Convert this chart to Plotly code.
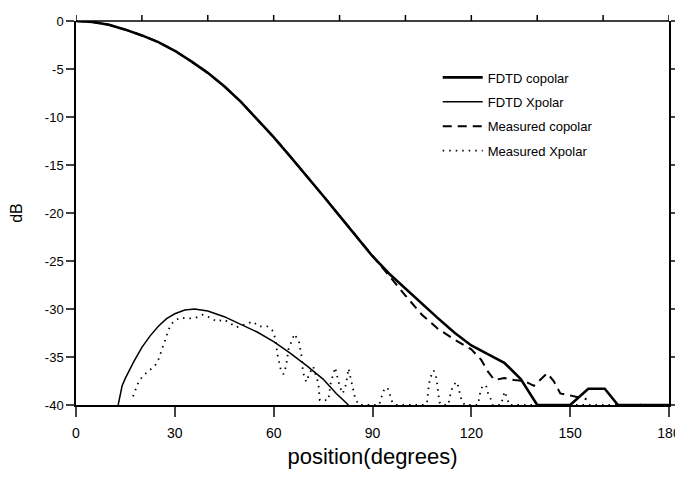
"""Co/cross-polar radiation pattern: FDTD vs measured"""

import plotly.graph_objects as go

# FDTD copolar (degrees, dB)
fdtd_co_x = [0, 5, 10, 15, 20, 25, 30, 35, 40, 45, 50, 55, 60, 65, 70, 75, 80, 85,
             90, 95, 100, 105, 110, 115, 120, 125, 130, 135, 140, 150, 155.5, 160.5,
             164.5, 180]
fdtd_co_y = [0, -0.1, -0.4, -0.9, -1.5, -2.2, -3.1, -4.2, -5.4, -6.8, -8.4, -10.2,
             -12.1, -14.1, -16.1, -18.2, -20.3, -22.4, -24.5, -26.3, -27.9, -29.5,
             -31.0, -32.5, -33.8, -34.7, -35.6, -37.3, -40, -40, -38.3, -38.3, -40, -40]

# FDTD Xpolar
fdtd_x_x = [12.8, 14, 15, 17.5, 20, 22.5, 25, 27.5, 30, 33, 36, 40, 45, 50, 55, 60,
            65, 70, 75, 79, 82.7]
fdtd_x_y = [-40, -38.0, -37.2, -35.5, -34.0, -32.8, -31.8, -31.0, -30.5, -30.1,
            -30.0, -30.2, -30.8, -31.6, -32.4, -33.4, -34.6, -35.9, -37.3, -38.8, -40]

# Measured copolar
meas_co_x = [0, 5, 10, 15, 20, 25, 30, 35, 40, 45, 50, 55, 60, 65, 70, 75, 80, 85,
             90, 95, 100, 105, 110, 115, 120, 123, 125, 127, 130, 133, 136, 139, 141,
             143, 145, 147, 150, 153, 155]
meas_co_y = [0, -0.1, -0.4, -0.9, -1.5, -2.2, -3.1, -4.2, -5.4, -6.8, -8.4, -10.2,
             -12.1, -14.1, -16.1, -18.2, -20.3, -22.4, -24.5, -26.6, -28.6, -30.6,
             -32.1, -33.2, -34.2, -35.3, -36.5, -37.4, -37.2, -37.4, -37.5, -38.0,
             -37.3, -36.7, -37.5, -38.8, -39.0, -39.2, -39.4]

# Measured Xpolar
meas_x_x = [17.3, 18.1, 19.1, 20.5, 22.2, 24, 25.1, 26.1, 26.7, 27.6, 28.4, 29.6,
            31.6, 34.1, 36.4, 38.5, 40.7, 42.7, 44.9, 48.8, 53.7, 55.4, 58, 59.8,
            60.5, 61.2, 62.2, 63, 63.8, 64.5, 65.3, 66.3, 67.7, 68.5, 68.9, 69.9,
            70.9, 72, 73.6, 74, 76.6, 77.2, 78, 78.7, 79.4, 80.2, 81, 82, 82.7, 83.4,
            84.2, 84.8, 86, 92, 92.9, 93.6, 94.6, 95.4, 96, 97, 106, 106.6, 107.1,
            107.6, 108.6, 109.4, 110.1, 110.3, 111, 113, 113.7, 114.5, 115.7, 116.5,
            117, 118, 122, 122.8, 123.6, 124.6, 125.1, 125.8, 126.5, 129, 130.1,
            130.9, 131.5, 170, 170.8, 171.5]
meas_x_y = [-39.1, -38.3, -37.5, -36.9, -36.4, -35.9, -35.2, -34.3, -33.6, -32.7,
            -31.9, -31.3, -30.9, -31.0, -30.9, -30.6, -30.9, -31.3, -31.1, -31.9,
            -31.3, -31.8, -31.8, -32.3, -33.1, -34.8, -36.4, -36.8, -35.9, -34.2,
            -33.4, -32.6, -33.4, -35.0, -36.6, -37.6, -36.7, -36.0, -37.8, -39.5,
            -39.5, -37.9, -36.9, -36.1, -37.2, -38.2, -38.8, -37.8, -36.2, -37.2,
            -38.5, -39.4, -40, -40, -39.0, -38.3, -38.2, -39.0, -39.7, -40, -40,
            -39.6, -37.9, -37.1, -36.4, -37.2, -38.9, -39.7, -40, -40, -38.8, -37.9,
            -37.6, -38.6, -39.5, -40, -40, -38.5, -37.9, -38.1, -38.8, -39.3, -40,
            -40, -38.6, -39.3, -40, -40, -39.8, -40]

x_ticks = [0, 30, 60, 90, 120, 150, 180]
x_top_ticks = [0, 20, 40, 60, 80, 100, 120, 140, 160, 180]
y_ticks = [0, -5, -10, -15, -20, -25, -30, -35, -40]
y_tick_text = ['0', '-5', '-10', '-15', '-20', '-25', '-30', '-35', '-40']

FONT = 'Liberation Sans, Arial, sans-serif'
PLOT_H = 384  # plot area height in px, for the top tick length

fig = go.Figure()

fig.add_trace(go.Scatter(x=fdtd_co_x, y=fdtd_co_y, mode='lines', name='FDTD copolar',
                         legendgroup='a', line=dict(color='black', width=2.6)))
fig.add_trace(go.Scatter(x=fdtd_x_x, y=fdtd_x_y, mode='lines', name='FDTD Xpolar',
                         legendgroup='b', line=dict(color='black', width=1.5)))
fig.add_trace(go.Scatter(x=meas_co_x, y=meas_co_y, mode='lines', name='Measured copolar',
                         legendgroup='c',
                         line=dict(color='black', width=2, dash='9px,6px')))
fig.add_trace(go.Scatter(x=meas_x_x, y=meas_x_y, mode='lines', name='Measured Xpolar',
                         legendgroup='d',
                         line=dict(color='black', width=1.8, dash='1.5px,5px')))

# top frame line with ticks every 20 degrees
fig.add_shape(type='line', xref='paper', yref='paper', x0=0, x1=1, y0=1, y1=1,
              line=dict(color='black', width=1.5))
for t in x_top_ticks:
    fig.add_shape(type='line', xref='x', yref='paper', x0=t, x1=t, y0=1,
                  y1=1 + 6 / PLOT_H, line=dict(color='black', width=1.5))

# the page body has an 8px margin, so keep the figure inside the window
fig.update_layout(
    width=675, height=461,
    margin=dict(l=68, r=14, t=13, b=64),
    paper_bgcolor='white',
    plot_bgcolor='white',
    font=dict(family=FONT, color='black'),
    legend=dict(
        x=0.61, y=0.892, xanchor='left', yanchor='top',
        font=dict(size=13, family=FONT),
        bgcolor='rgba(0,0,0,0)',
        itemwidth=40,
        tracegroupgap=4.5,
        traceorder='grouped',
    ),
    xaxis=dict(
        range=[0, 180], tickvals=x_ticks, ticks='outside', ticklen=10,
        tickwidth=1.5, showline=True, linecolor='black', linewidth=1.5,
        showgrid=False, zeroline=False, tickfont=dict(size=14), automargin=False,
        ticklabelstandoff=4,
        title=dict(text='position(degrees)', font=dict(size=22), standoff=10),
    ),
    yaxis=dict(
        range=[-40, 0], tickvals=y_ticks, ticktext=y_tick_text, ticks='outside',
        ticklen=8, tickwidth=1.5, showline=True, linecolor='black', linewidth=1.5,
        mirror='ticks',
        showgrid=False, zeroline=False, tickfont=dict(size=13), automargin=False,
        title=dict(text='dB', font=dict(size=16), standoff=22),
    ),
)

fig.write_html("out.html")
